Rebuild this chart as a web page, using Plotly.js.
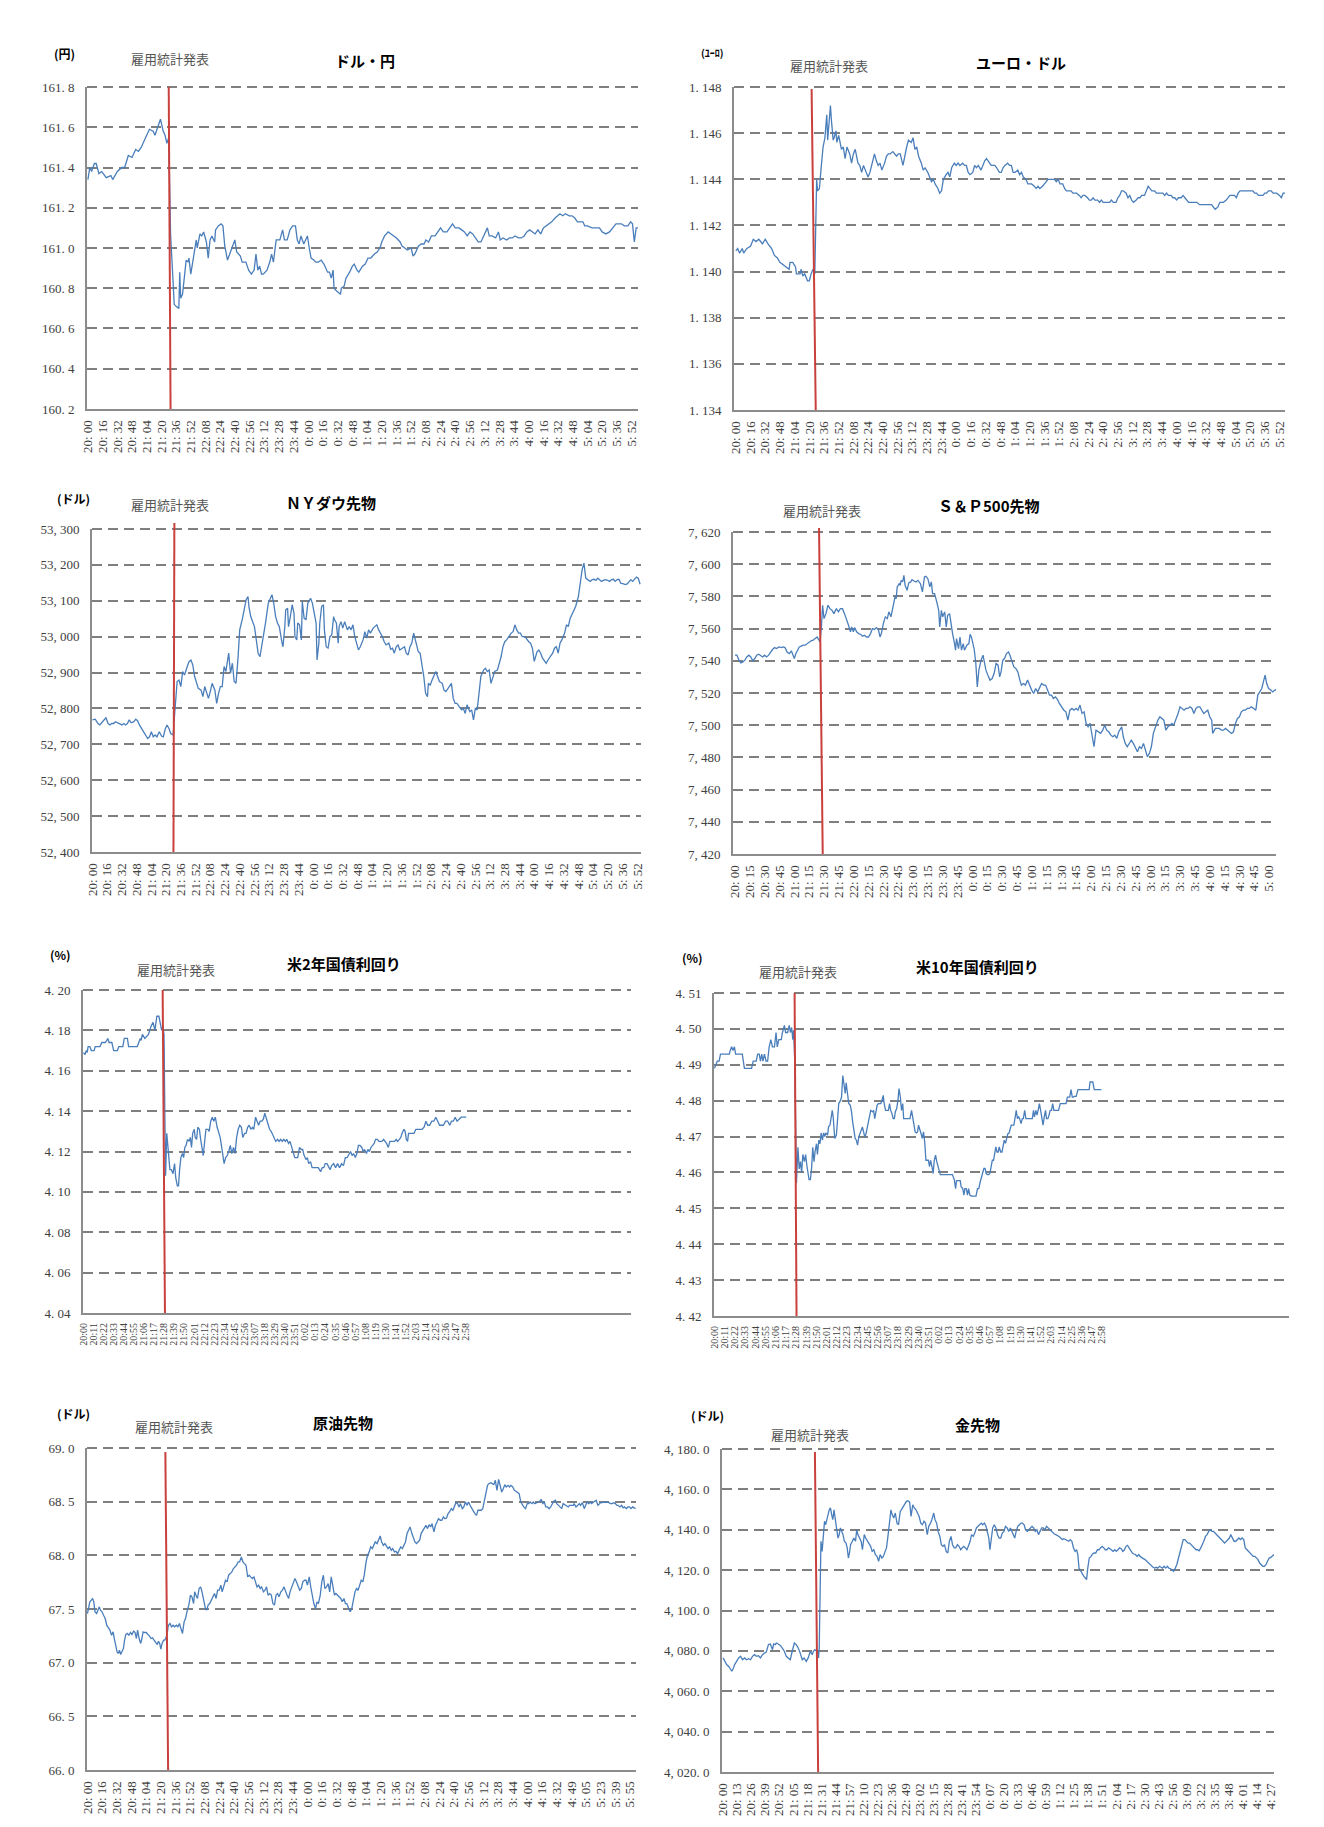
<!DOCTYPE html>
<html>
<head>
<meta charset="utf-8">
<script src="https://cdn.plot.ly/plotly-3.0.1.min.js"></script>
<style>html,body{margin:0;padding:0;background:#fff}#chart{width:1324px;height:1827px}</style>
</head>
<body>
<div id="chart"></div>
<script>
// ---------- tick labels ----------
const labels16 = ["20: 00","20: 16","20: 32","20: 48","21: 04","21: 20","21: 36","21: 52","22: 08","22: 24","22: 40","22: 56","23: 12","23: 28","23: 44","0: 00","0: 16","0: 32","0: 48","1: 04","1: 20","1: 36","1: 52","2: 08","2: 24","2: 40","2: 56","3: 12","3: 28","3: 44","4: 00","4: 16","4: 32","4: 48","5: 04","5: 20","5: 36","5: 52"];
const labels15 = ["20: 00","20: 15","20: 30","20: 45","21: 00","21: 15","21: 30","21: 45","22: 00","22: 15","22: 30","22: 45","23: 00","23: 15","23: 30","23: 45","0: 00","0: 15","0: 30","0: 45","1: 00","1: 15","1: 30","1: 45","2: 00","2: 15","2: 30","2: 45","3: 00","3: 15","3: 30","3: 45","4: 00","4: 15","4: 30","4: 45","5: 00"];
const labels11 = ["20:00","20:11","20:22","20:33","20:44","20:55","21:06","21:17","21:28","21:39","21:50","22:01","22:12","22:23","22:34","22:45","22:56","23:07","23:18","23:29","23:40","23:51","0:02","0:13","0:24","0:35","0:46","0:57","1:08","1:19","1:30","1:41","1:52","2:03","2:14","2:25","2:36","2:47","2:58"];
const labelsOil = ["20: 00","20: 16","20: 32","20: 48","21: 04","21: 20","21: 36","21: 52","22: 08","22: 24","22: 40","22: 56","23: 12","23: 28","23: 44","0: 00","0: 16","0: 32","0: 48","1: 04","1: 20","1: 36","1: 52","2: 08","2: 24","2: 40","2: 56","3: 12","3: 28","3: 44","4: 00","4: 16","4: 32","4: 49","5: 05","5: 23","5: 39","5: 55"];
const labelsGold = ["20: 00","20: 13","20: 26","20: 39","20: 52","21: 05","21: 18","21: 31","21: 44","21: 57","22: 10","22: 23","22: 36","22: 49","23: 02","23: 15","23: 28","23: 41","23: 54","0: 07","0: 20","0: 33","0: 46","0: 59","1: 12","1: 25","1: 38","1: 51","2: 04","2: 17","2: 30","2: 43","2: 56","3: 09","3: 22","3: 35","3: 48","4: 01","4: 14","4: 27"];

const usdjpyTickVals = [160.2,160.4,160.6,160.8,161.0,161.2,161.4,161.6,161.8];
const usdjpyTickText = ["160. 2","160. 4","160. 6","160. 8","161. 0","161. 2","161. 4","161. 6","161. 8"];
const eurusdTickVals = [1.134,1.136,1.138,1.140,1.142,1.144,1.146,1.148];
const eurusdTickText = ["1. 134","1. 136","1. 138","1. 140","1. 142","1. 144","1. 146","1. 148"];
const dowTickVals = [52400,52500,52600,52700,52800,52900,53000,53100,53200,53300];
const dowTickText = ["52, 400","52, 500","52, 600","52, 700","52, 800","52, 900","53, 000","53, 100","53, 200","53, 300"];
const spTickVals = [7420,7440,7460,7480,7500,7520,7540,7560,7580,7600,7620];
const spTickText = ["7, 420","7, 440","7, 460","7, 480","7, 500","7, 520","7, 540","7, 560","7, 580","7, 600","7, 620"];
const us2TickVals = [4.04,4.06,4.08,4.10,4.12,4.14,4.16,4.18,4.20];
const us2TickText = ["4. 04","4. 06","4. 08","4. 10","4. 12","4. 14","4. 16","4. 18","4. 20"];
const us10TickVals = [4.42,4.43,4.44,4.45,4.46,4.47,4.48,4.49,4.50,4.51];
const us10TickText = ["4. 42","4. 43","4. 44","4. 45","4. 46","4. 47","4. 48","4. 49","4. 50","4. 51"];
const oilTickVals = [66.0,66.5,67.0,67.5,68.0,68.5,69.0];
const oilTickText = ["66. 0","66. 5","67. 0","67. 5","68. 0","68. 5","69. 0"];
const goldTickVals = [4020,4040,4060,4080,4100,4120,4140,4160,4180];
const goldTickText = ["4, 020. 0","4, 040. 0","4, 060. 0","4, 080. 0","4, 100. 0","4, 120. 0","4, 140. 0","4, 160. 0","4, 180. 0"];

// ---------- series (x = minutes / rows after 20:00) ----------
const usdjpyTime = [0,2,4,7,9,12,15,20,25,27,
32,37,40,44,48,52,55,58,63,67,
71,73,76,79,82,84,86,88,
90,92,94,96,99,100,101,103,105,107,
109,110,112,115,118,119,122,124,126,129,
131,133,135,138,139,142,145,147,149,152,
155,158,160,162,166,168,172,175,178,181,
183,185,187,189,191,195,198,200,202,205,
209,212,214,217,220,223,226,228,230,232,
235,237,239,241,243,246,248,251,254,257,
261,263,265,267,268,270,273,275,276,279,
281,285,288,290,293,295,299,302,305,308,
312,315,318,320,323,325,327,330,333,336,
340,342,345,348,352,354,356,360,363,366,
368,371,374,378,381,384,387,391,394,397,
400,404,407,410,413,416,419,422,425,428,
432,435,437,440,444,447,449,452,456,459,
462,465,469,472,475,478,481,484,487,490,
493,496,499,503,505,509,512,514,517,520,
524,527,530,533,536,539,541,544,549,553,
557,560,564,568,572,575,578,581,584,588,
591,593,595,597,599];
const usdjpyValue = [161.34,161.40,161.38,161.42,161.42,161.37,161.38,161.35,161.36,161.34,
161.38,161.40,161.40,161.46,161.45,161.49,161.48,161.50,161.55,161.59,
161.58,161.56,161.60,161.64,161.58,161.56,161.52,161.55,
161.07,160.87,160.72,160.71,160.70,160.88,160.75,160.77,160.86,160.94,
160.93,160.95,160.87,160.95,161.04,161.00,161.07,161.06,161.08,161.03,
160.95,161.04,161.06,161.03,161.09,161.11,161.12,161.11,161.01,160.94,
160.98,161.01,161.04,160.98,160.96,160.93,160.93,160.89,160.87,160.89,
160.97,160.89,160.91,160.87,160.87,160.89,160.93,160.97,160.93,161.04,
161.04,161.09,161.04,161.04,161.09,161.11,161.11,161.04,161.02,161.06,
161.02,161.04,161.06,161.00,160.95,160.94,160.93,160.93,160.94,160.92,
160.88,160.88,160.85,160.89,160.80,160.79,160.78,160.77,160.80,160.81,
160.85,160.88,160.91,160.92,160.89,160.88,160.91,160.92,160.95,160.95,
160.97,160.98,161.00,161.03,161.06,161.07,161.08,161.07,161.06,161.05,
161.03,161.01,161.00,160.99,161.00,160.96,160.97,161.01,161.02,161.02,
161.04,161.03,161.06,161.06,161.08,161.10,161.08,161.08,161.10,161.12,
161.10,161.10,161.09,161.08,161.06,161.08,161.07,161.05,161.03,161.03,
161.07,161.10,161.06,161.06,161.05,161.08,161.04,161.05,161.04,161.05,
161.05,161.06,161.05,161.05,161.06,161.08,161.09,161.08,161.07,161.09,
161.07,161.10,161.11,161.12,161.13,161.15,161.16,161.17,161.16,161.17,
161.16,161.16,161.15,161.13,161.13,161.13,161.11,161.11,161.10,161.10,
161.10,161.08,161.07,161.08,161.10,161.12,161.12,161.12,161.11,161.11,
161.13,161.12,161.03,161.10,161.10];

const eurusdTime = [0,2,4,7,8.5,12,16,19,22,25,
29,32,35,39,42,45,48,51,54,58,
59,62,65,66,70,71,73,75,78,80,
82,84,86,88,89,91,93,95,97,98,
99,100,101,103,104,106,107,109,110,112,
115,117,119,121,124,126,128,130,133,135,
137,139,142,144,146,148,151,153,155,157,
159,162,164,166,168,171,173,175,177,179,
182,184,186,188,191,193,195,197,199,202,
204,206,209,211,213,215,217,220,222,224,
226,229,231,233,235,238,240,242,244,247,
249,251,253,255,258,260,262,264,267,269,
271,273,275,278,280,282,284,287,289,291,
293,296,298,300,302,304,307,309,311,313,
316,318,320,322,325,327,329,331,334,336,
338,340,342,344,347,349,351,353,356,358,
360,362,365,367,369,371,374,376,378,380,
383,385,387,389,391,394,396,398,400,403,
405,407,409,411,414,416,418,420,422,425,
427,429,431,433,436,438,440,442,445,447,
449,451,453,456,458,460,462,465,467,469,
471,474,476,478,480,482,485,487,489,491,
493,496,498,500,502,505,507,509,511,513,
516,518,520,522,525,527,529,531,534,536,
538,540,543,545,547,549,551,554,556,558,
560,563,565,567,569,571,574,576,578,580,
583,585,587,589,592,594,596,598];
const eurusdValue = [1.1409,1.1410,1.1408,1.1410,1.1408,1.1410,1.1411,1.1414,1.1413,1.1414,
1.1412,1.1414,1.1412,1.1410,1.1407,1.1406,1.1404,1.1403,1.1402,1.1401,
1.1404,1.1404,1.1402,1.1399,1.1399,1.1401,1.1398,1.1399,1.1396,1.1396,
1.1399,1.1401,1.1399,1.1440,1.1435,1.1436,1.14455,1.1454,1.1458,1.1463,
1.1468,1.1457,1.1463,1.1472,1.1466,1.1457,1.1458,1.1461,1.1456,1.1459,
1.1453,1.1454,1.1449,1.1454,1.1451,1.1447,1.1451,1.1453,1.1447,1.1446,
1.1443,1.1446,1.1443,1.1441,1.1443,1.1446,1.1451,1.1448,1.1446,1.1447,
1.1444,1.1447,1.1450,1.1451,1.1451,1.1452,1.1451,1.1450,1.1451,1.1451,
1.1446,1.1451,1.1454,1.1457,1.1456,1.1458,1.1453,1.1454,1.1450,1.1447,
1.1444,1.1445,1.1443,1.1441,1.1439,1.1440,1.1438,1.1436,1.1434,1.1435,
1.1440,1.1442,1.1443,1.1441,1.1445,1.1447,1.1446,1.1447,1.1446,1.1447,
1.1446,1.1446,1.1443,1.1442,1.1443,1.1446,1.1445,1.1446,1.1444,1.1446,
1.1448,1.1449,1.1448,1.1446,1.1446,1.1446,1.1445,1.1443,1.1443,1.1445,
1.1446,1.1447,1.1446,1.1446,1.1443,1.1443,1.1444,1.1442,1.1443,1.1441,
1.1440,1.1438,1.1438,1.1438,1.1437,1.1436,1.1437,1.1436,1.1437,1.1438,
1.1439,1.1440,1.1440,1.1440,1.1440,1.1439,1.1440,1.1438,1.1438,1.1436,
1.1435,1.1435,1.1435,1.1434,1.1434,1.1434,1.1433,1.1432,1.1433,1.1433,
1.1432,1.1431,1.1431,1.1432,1.1431,1.1431,1.1430,1.1431,1.1430,1.1430,
1.1430,1.1430,1.1431,1.1430,1.1430,1.1432,1.1433,1.1435,1.1435,1.1434,
1.1432,1.1433,1.1431,1.1430,1.1431,1.1432,1.1432,1.1433,1.1433,1.1435,
1.1437,1.1436,1.1435,1.1435,1.1434,1.1434,1.1434,1.1434,1.1433,1.1434,
1.1433,1.1433,1.1432,1.1432,1.1431,1.1432,1.1432,1.1433,1.1432,1.1431,
1.1430,1.1430,1.1430,1.1430,1.1430,1.1429,1.1429,1.1429,1.1429,1.1429,
1.1429,1.1429,1.1428,1.1427,1.1428,1.1430,1.1430,1.1430,1.1431,1.1432,
1.1433,1.1433,1.1433,1.1432,1.1434,1.1435,1.1435,1.1435,1.1435,1.1435,
1.1435,1.1435,1.1434,1.1434,1.1433,1.1433,1.1433,1.1434,1.1434,1.1435,
1.1435,1.1434,1.1434,1.1434,1.1433,1.1432,1.1434,1.1434];

const dowTime = [0,3,6,8,10,12.5,14.6,17,19,21,
23,25,30,32,34,36,38,40,42,45,
47,49,51,53,55,58,60,62,64,66,
68,70,72.6,75,77,79,81,83,85,87.6,
90,92,94,96,98,100,103,105,107,109,
111,113,115,118,120,122,124,126,128,130,
133,135,137,139,141,143,145,148,150,152,
154,156,158,160,163,165,167,169,170,172,
174,176,178,180,182,184,186,188,191,193,
195,197,199,201,203,206,207,209,210,212,
213,215,217,219,220,222,223,225,227,228,
230,232,234,237,239,241,243,244,246,247,
249,251,252,254,256,258,260,262,263,265,
267,268,270,272,274,277,279,281,283,285,
287,289,291,294,296,298,300,302,305,307,
309,311,313,315,317,319,322,324,326,328,
330,332,334,337,339,341,343,345,347,349,
350,352,354,356,358,360,362,364,365,367,
369,371,373,375,377,380,382,384,386,388,
390,392,394,396,399,401,403,405,407,410,
412,414,416,418,420,422,425,427,429,431,
433,435,437,440,442,444,446,448,450,452,
455,457,459,461,463,465,467,470,472,474,
476,478,480,483,485,487,489,491,493,495,
498,500,502,504,506,508,510,513,515,517,
519,521,523,525,528,529,531,532,534,535,
536,538,541,543,545,547,549,551,553,555,
557,560,562,564,566,568,570,572,574,577,
579,581,583,585,587,589,591,593,595];
const dowValue = [52768,52770,52758,52754,52760,52768,52774,52758,52754,52758,
52758,52763,52758,52754,52758,52754,52758,52768,52760,52763,
52770,52766,52754,52745,52740,52726,52716,52721,52735,52721,
52726,52721,52735,52723,52721,52742,52754,52745,52730,52726,
52823,52875,52879,52861,52903,52893,52917,52931,52935,52921,
52889,52870,52856,52851,52833,52861,52847,52828,52847,52870,
52851,52814,52842,52861,52861,52917,52903,52954,52898,52926,
52875,52870,52935,53019,53051,53079,53103,53112,53084,53056,
53042,53028,52991,52954,52944,52972,53010,53038,53093,53103,
53117,53093,53056,53038,53028,52982,52972,53028,53075,53079,
53028,53056,53089,53065,53000,52991,53038,53033,52991,53098,
53051,53047,53093,53107,53093,53065,53038,52935,52982,53038,
53084,53089,53019,52972,52968,53000,53005,53056,53047,53038,
52982,53028,53042,53024,53042,53019,53028,53019,53033,53000,
52977,52963,52972,52991,53014,52996,53019,53010,53024,53028,
53033,53019,53010,53000,52986,52977,52982,52965,52968,52954,
52972,52977,52963,52968,52972,52954,52949,52972,52982,53010,
53000,52972,52958,52954,52926,52889,52842,52833,52870,52865,
52879,52889,52903,52889,52875,52870,52851,52847,52856,52861,
52870,52828,52814,52814,52805,52796,52800,52786,52810,52791,
52796,52768,52800,52796,52842,52889,52907,52912,52903,52907,
52870,52889,52903,52907,52926,52944,52972,52986,52991,53000,
53010,53014,53033,53019,53010,53010,53000,53000,52991,52986,
52982,52968,52931,52958,52963,52954,52940,52931,52926,52935,
52949,52954,52968,52972,52954,52982,52991,53010,53033,53028,
53051,53061,53070,53084,53112,53131,53159,53186,53205,53182,
53163,53159,53154,53159,53160,53157,53163,53159,53154,53157,
53159,53157,53154,53159,53160,53154,53159,53160,53149,53147,
53145,53147,53154,53159,53154,53159,53166,53163,53146];

const spTime = [0,2,4,6,8,10,12,14,16,18,
20,22,24,26,28,30,32,34,36,38,
40,42,44.5,47,48.6,50.6,52.7,55,57,59,
60,61.6,63,65,67,69,71,73,75,77,
79,81,83,84,86,
87.4,88.6,90,92,94,96,98,100,102.5,104.6,
106.6,108.7,110.7,112.7,114.8,116.8,118,119.7,121,123,
125,127,129,131,133,135,137,139,141,143,
145,146.6,148,150,152,154,155.6,157.7,159.7,161.8,
163,164,166,167,168,169.5,170.8,172,174,175.7,
177.7,179,181,183,185,187.5,189.5,191.6,193,195,
197,198.5,199.8,201.8,204,206,207,208.7,210,212,
213.6,215,217,218.5,220,222,223,224,226,227.5,
229,230.8,232,234.5,236.5,237.7,239,240.6,242,243.5,
245,246.6,248.8,250.8,252,253.7,255.7,257.8,260,262,
264,266,267.6,269,270.8,272.5,274.5,276.6,278,280,
282,284,286,288,289.6,291.7,293.7,295.8,297.8,300,
302,304,306,308,310,312,314,316,318,320,
322,324,326,328,330,332.5,334.6,336.6,338.6,340.7,
342.7,344.8,346.8,348.8,350.9,353,355,357,359,361,
363,365,367,369.7,371.8,373.8,375.8,377.9,380,382,
384,386,388,390,391,392.6,394.6,396.6,398.7,400.7,
402.8,404.8,406.9,408.9,411,413,415,417,419,421,
423,425,427.5,429.6,431.6,433.6,435.6,437.7,439.8,441.8,
443.6,445.7,448,450,452,454,456,458,460,462,
464,466,468,470,472,474,476,478,480,482,
483,485.7,487.7,489.8,491.8,493.8,495.9,498,500,502,
504,506,508,510,512,514,516,518,520,522,
524.5,526.6,528.6,530.6,532.6,534.7,536,537.6,539.6,541.7,
543.7,545.8,547.8,549];
const spValue = [7543.5,7543.5,7540.4,7538.7,7539.3,7540.4,7542.4,7543.5,7542.4,7540.0,
7541.4,7543.5,7544.1,7543.5,7542.4,7543.5,7542.4,7543.5,7545.5,7547.0,
7548.2,7547.6,7548.6,7548.2,7548.6,7548.2,7545.5,7544.5,7546.2,7543.5,
7541.4,7544.5,7546.6,7548.6,7549.1,7549.7,7549.7,7550.7,7551.7,7552.4,
7552.8,7553.8,7554.8,7553.8,7551.7,
7561.1,7574.5,7566.2,7569.3,7574.5,7572.4,7571.4,7569.3,7572.4,7570.4,
7572.4,7572.4,7569.3,7566.2,7562.1,7558.0,7561.1,7558.0,7560.6,7558.0,
7556.9,7556.5,7555.3,7555.9,7554.8,7554.8,7556.9,7560.0,7559.4,7560.6,
7559.4,7554.8,7556.9,7563.1,7567.3,7566.2,7570.4,7567.3,7574.5,7579.7,
7578.6,7585.9,7587.9,7586.9,7590.0,7589.0,7593.1,7586.9,7583.8,7588.4,
7589.0,7590.4,7589.6,7589.0,7590.0,7587.9,7582.8,7592.1,7592.5,7591.0,
7585.9,7589.0,7581.7,7581.7,7576.6,7571.4,7561.1,7571.4,7567.3,7570.4,
7561.1,7568.3,7569.3,7561.1,7556.9,7550.7,7546.6,7553.8,7547.6,7554.8,
7546.6,7550.7,7546.6,7549.7,7550.7,7556.5,7554.8,7550.7,7546.6,7538.3,
7523.8,7534.2,7540.4,7543.5,7540.4,7534.2,7531.1,7528.0,7529.0,7532.1,
7538.3,7537.3,7530.0,7533.1,7540.4,7541.4,7544.5,7545.5,7543.5,7540.4,
7536.2,7535.2,7533.1,7528.0,7524.9,7525.9,7524.9,7528.0,7524.9,7521.8,
7519.7,7522.8,7520.7,7523.8,7525.9,7524.9,7524.9,7521.8,7518.7,7518.7,
7516.6,7517.6,7516.0,7513.5,7511.4,7509.3,7508.3,7503.1,7509.3,7510.4,
7509.3,7510.4,7509.3,7512.5,7507.3,7508.3,7501.1,7499.0,7501.1,7492.8,
7486.6,7496.9,7495.9,7494.9,7496.9,7500.0,7496.9,7495.9,7493.8,7492.8,
7493.8,7491.8,7495.9,7498.0,7499.0,7492.8,7488.7,7486.6,7488.7,7490.7,
7488.7,7486.6,7483.5,7486.6,7485.6,7488.7,7484.5,7480.4,7482.5,7486.6,
7494.9,7499.0,7503.1,7505.2,7504.2,7503.1,7496.9,7499.0,7500.0,7501.1,
7500.0,7503.1,7507.3,7511.4,7510.4,7509.3,7510.4,7510.4,7511.4,7510.4,
7507.3,7510.4,7511.4,7511.4,7509.3,7507.3,7508.3,7509.3,7505.2,7503.1,
7494.9,7498.0,7498.0,7498.0,7496.9,7496.9,7498.0,7496.9,7495.9,7494.9,
7495.9,7501.1,7504.2,7505.2,7508.3,7509.3,7509.3,7510.4,7510.4,7511.4,
7510.4,7509.3,7518.7,7520.7,7522.8,7528.0,7531.1,7525.9,7522.8,7521.8,
7520.7,7521.8,7522.2,7520.7];

const us2Time = [0,1.7,3,4,5.1,7,8.6,11.6,12.9,18,
20,24,26.6,28,31,33,37,38.6,43,44.6,
48,49.3,58.8,60,62,63,64.4,67,69,71,
73.8,76,78,80.2,82.4,83.7,85.4,86.7,88,
88.8,89.7,91,92,93,94.4,96,97.8,99.5,100.8,
102.5,103.8,105,106.4,108,109.4,110.7,112,113.7,115.4,
116.7,118,119.3,121,122,123.6,124.8,126.6,128,129.6,
130.8,132.6,133.8,136,137.3,139,140.7,142.4,144,146,
147.6,149.3,151,152.3,153.6,155.3,157,158.7,160.4,162,
163.9,165.6,167.3,169,170.7,172.5,174,176,177.6,179.3,
181,182.8,184.5,186,188,189.6,191.3,193,194.8,196.5,
198,200,201.6,203.3,205,207,208.5,210,212,213.6,
215.4,217,218.8,220.5,222,224,225.6,227.4,229,230.8,
232.5,234,236,237.7,239.4,241,243,244.5,246,248,
249.7,251.4,254,256.5,259,260.8,262.5,264,266,267.7,
269.4,271,273.3,275.4,277.5,279.7,281.9,284,286,288,
290,291.7,293.4,295,296.9,298.6,300.3,302,304,305.5,
307,309,310.6,312.3,314,315.7,317.5,319,321,322.6,
324,326,327.8,329.5,331,333,334.6,336,338,339.8,
341.5,343,345,346.6,348,350,351.3,352.6,354,355,
357,359,361,363,365.5,367.6,369.8,372,374,376,
378,380.5,382.7,384.8,387,389,391,393,395.5,397.7,
400,402,404,406,408,410.5,412.6,414.8,418];
const us2Value = [4.169,4.168,4.170,4.169,4.172,4.172,4.170,4.170,4.172,4.172,
4.174,4.174,4.176,4.174,4.174,4.170,4.170,4.172,4.172,4.176,
4.176,4.172,4.172,4.174,4.176,4.175,4.178,4.176,4.177,4.178,
4.182,4.184,4.180,4.187,4.187,4.183,4.180,4.182,4.178,
4.142,4.108,4.129,4.122,4.119,4.111,4.111,4.109,4.114,4.107,
4.103,4.103,4.111,4.117,4.119,4.117,4.122,4.123,4.126,4.125,
4.127,4.122,4.129,4.131,4.127,4.126,4.132,4.131,4.126,4.121,
4.118,4.126,4.131,4.131,4.130,4.135,4.137,4.135,4.137,4.132,
4.129,4.127,4.122,4.117,4.114,4.117,4.118,4.120,4.123,4.119,
4.122,4.119,4.127,4.131,4.133,4.132,4.127,4.129,4.129,4.132,
4.133,4.131,4.132,4.131,4.137,4.135,4.133,4.135,4.135,4.136,
4.139,4.136,4.133,4.131,4.130,4.128,4.127,4.125,4.126,4.125,
4.126,4.125,4.126,4.125,4.126,4.124,4.125,4.122,4.120,4.117,
4.117,4.117,4.122,4.121,4.121,4.118,4.116,4.117,4.114,4.115,
4.112,4.112,4.112,4.112,4.110,4.112,4.112,4.114,4.114,4.112,
4.111,4.113,4.114,4.112,4.114,4.112,4.114,4.113,4.117,4.117,
4.119,4.120,4.118,4.119,4.117,4.119,4.123,4.123,4.122,4.120,
4.121,4.119,4.121,4.120,4.122,4.123,4.124,4.126,4.126,4.125,
4.125,4.125,4.126,4.125,4.124,4.122,4.125,4.125,4.125,4.125,
4.126,4.125,4.126,4.127,4.129,4.131,4.130,4.126,4.125,4.129,
4.129,4.129,4.129,4.131,4.131,4.131,4.131,4.132,4.135,4.133,
4.133,4.135,4.135,4.137,4.135,4.133,4.133,4.133,4.135,4.135,
4.133,4.135,4.135,4.137,4.135,4.136,4.137,4.137,4.137];

const us10Time = [0,1.3,3,5,6.5,11,16,17,18.5,20,
21.5,22.8,26,30,32.3,37,40,41.8,45,46.6,
48.3,49.6,51,52.2,53.9,55.6,57.3,59,60.8,62.5,
64.7,66.4,67.7,69.4,72,73.3,75.4,76.7,78.9,80.6,
81.9,83.2,84.5,85.3,
86.6,88.4,90,91.4,92.7,94,95.3,97,98.3,99.6,
100.9,102,103.4,104.7,106,107.3,108.6,110,111,112.5,
113.8,115,116.4,117.7,119,120,122,123,124.6,125.8,
127,128,129.7,131.5,132.8,134,135.8,137,138.4,139.7,
141,142,143.5,144.8,146.5,147.8,149,150.4,151.7,153,
154.3,155.6,157,158,159.5,160.8,162,163.4,164.7,166,
167,168.5,170.3,171.6,172.8,174,175.4,176.7,178,179.3,
180.6,182,183,184.5,186,187.5,188.8,190,191.4,192.7,
194,195,196.5,197.8,199,200.4,201.7,203,204,205.6,
207,209,210.8,212.5,213.8,215,216.4,217.7,219,220,
221.6,222.8,224,225.4,226.7,228,229,230.6,231.9,233,
234.5,235.8,237,238.4,239.7,241,242,243.5,245.7,247.8,
250,252,254.7,256.5,258.6,260,261,263,265,266,
267.7,269,270,271.5,272.8,274,275.4,277,280,282,
283.6,285,286.6,288,289,290.5,291.8,293,294.4,295.7,
297,298,299.6,300.9,302,303.4,304.7,306,307,308.6,
310,311,312.5,313.8,315,316.4,317.7,319,320,321.6,
322.8,324,325.4,326.7,328,329,330.6,331.9,333,334.5,
335.8,337.5,339,341,342.7,344,345,346.6,347.8,349,
350.4,351.7,353,354.3,355.6,357,358,359.5,360.8,362,
363.4,364.7,366,367.7,369.4,371,372.8,375,377,379,
380.6,382,383,384.5,385.8,387,388,390,392,393.5,
396.6,401,404,405,408,409.5,411.6,417.2];
const us10Value = [4.489,4.490,4.491,4.491,4.493,4.493,4.493,4.494,4.495,4.494,
4.495,4.493,4.493,4.493,4.489,4.489,4.489,4.491,4.491,4.493,
4.493,4.491,4.493,4.491,4.493,4.491,4.491,4.495,4.497,4.495,
4.495,4.499,4.495,4.497,4.497,4.499,4.501,4.499,4.499,4.501,
4.499,4.5004,4.497,4.4996,
4.491,4.457,4.467,4.461,4.463,4.460,4.465,4.463,4.465,4.462,
4.460,4.458,4.458,4.461,4.467,4.463,4.466,4.468,4.465,4.469,
4.468,4.471,4.469,4.471,4.470,4.471,4.4704,4.4727,4.4732,4.4755,
4.4773,4.4755,4.4695,4.4704,4.476,4.4792,4.480,4.481,4.487,4.4838,
4.482,4.485,4.4824,4.4792,4.4787,4.4769,4.4741,4.4713,4.4695,4.469,
4.4676,4.4699,4.4708,4.4713,4.4727,4.4713,4.4699,4.4708,4.4727,4.4746,
4.476,4.4773,4.4769,4.4773,4.475,4.4773,4.4787,4.4792,4.4792,4.4792,
4.480,4.4815,4.4792,4.4773,4.4773,4.4773,4.4792,4.4773,4.4764,4.475,
4.475,4.4769,4.4778,4.480,4.4834,4.4811,4.4773,4.4792,4.475,4.475,
4.475,4.475,4.475,4.4773,4.475,4.4736,4.4713,4.471,4.4713,4.4732,
4.4713,4.4708,4.4695,4.4713,4.4685,4.4634,4.4634,4.4634,4.4616,4.4634,
4.4616,4.4597,4.4634,4.4648,4.463,4.4616,4.4606,4.4594,4.4594,4.4594,
4.4594,4.4594,4.4594,4.4594,4.458,4.4555,4.4577,4.4577,4.4577,4.456,
4.4555,4.4537,4.4555,4.4555,4.4537,4.4555,4.4537,4.4534,4.4534,4.4534,
4.4555,4.4555,4.4574,4.4592,4.4597,4.4611,4.4611,4.4597,4.4594,4.4594,
4.4597,4.4611,4.4634,4.4634,4.4657,4.4671,4.4657,4.4657,4.4671,4.4657,
4.4657,4.4671,4.469,4.4681,4.4695,4.4708,4.471,4.4727,4.4732,4.4732,
4.4732,4.475,4.4773,4.475,4.4755,4.475,4.4736,4.475,4.475,4.4773,
4.475,4.475,4.475,4.475,4.475,4.4773,4.4755,4.4773,4.476,4.4773,
4.4792,4.4773,4.475,4.4732,4.4755,4.4773,4.475,4.475,4.476,4.4773,
4.4773,4.4792,4.4773,4.4773,4.4773,4.4773,4.4792,4.4792,4.4792,4.4792,
4.481,4.481,4.481,4.4831,4.481,4.481,4.4812,4.4812,4.4831,4.4831,
4.4831,4.4831,4.4831,4.4852,4.4852,4.4831,4.4831,4.4831];

const oilTime = [0,1.3,2.6,4.3,5.6,6.9,8.2,10,11.6,12.9,
14.2,15.9,17.6,19.4,21,22.8,24.5,26.3,28,29.3,
30.6,32.3,33.6,34.9,36.2,37.9,39.2,40.5,41.8,43.5,
45.2,47,48.6,50.4,52,53.4,54.7,56.4,58.1,59.4,
60.7,62.4,64.2,65.9,67.6,69.3,71,72.7,74.5,76.2,
77.5,78.8,80.1,81.4,83.1,84.4,85.7,87,
88.3,90,91.7,93.4,95,97,98.6,100.3,102,103.7,
105.5,107,109,110.6,112.4,114,115.8,117,118.4,120,
121.8,123.5,125,127,128.7,130,131.7,133.4,135,137,
138.6,140.3,142,143.8,145.5,147,148.9,150.6,152.4,154,
155.8,157.5,159.3,161,162.7,164.4,166,167.9,169.6,171.3,
173,174.8,176.5,178,180,181.7,183.4,185,186.8,188.5,
190,192,193.7,195.4,197,198.9,200.6,202.3,204,205.8,
207.5,209,211,212.7,214.4,216,217.8,219.5,221,223,
224.7,226.4,228,229.9,231.6,233.3,235,236.8,238.5,240,
242,243.6,245.4,247,248.8,250.5,252,254,255.7,257.4,
259,260.9,262.6,264.3,266,267.8,269.5,271,273,274.6,
276.4,278,279.8,281.5,283,285,286.7,288.4,290,291.9,
293.6,295.3,297,298.7,300.5,302,304,305.6,307.4,309,
310.8,312.5,314,316,317.7,319.4,321,322.9,324.6,326.3,
328,329.7,331.5,333,335,336.6,338.4,340,341.8,343.6,
345,347,348.7,350.4,352,354,355.6,357.3,359,360.8,
362.5,364,365.9,367.6,369.3,371,372.8,374.5,376,378,
379.7,381.4,383,384.9,386.6,388.3,390,391.8,393.5,395,
397,398.7,400.3,402,403.8,405.5,407,409,410.6,412.4,
414,415.8,417.5,419.3,421,422.7,424.5,426,427.9,429.6,
431.3,433,434.8,436.5,438,440,441.7,443.4,445,446.8,
448.6,450,452,453.7,455.4,457,459,460.6,462,464,
465.8,467.5,469,471,472.8,474.4,476,478,479.8,481.5,
483,485,486.4,488,490,491.8,493.5,495,496.8,498.5,
500,502,503.7,505.4,507,508.8,510.5,512,514,516,
517.5,519,521,523,524.6,526,528,530,531,533,
535,536.5,538,540,542,543.7,545,547,549,550,
552,553.6,555,557,558.8,560,562,564,565.6,567,
569,570.7,572.5,574,576,577.6,579,581,582.8,584.5,
586,588,589.7,591.4,593,594.8,596.5,598];
const oilValue = [67.458,67.505,67.567,67.582,67.598,67.567,67.474,67.458,67.504,67.520,
67.489,67.474,67.442,67.411,67.349,67.318,67.303,67.256,67.287,67.225,
67.163,67.101,67.086,67.117,67.076,67.117,67.132,67.210,67.262,67.272,
67.256,67.281,67.262,67.294,67.281,67.225,67.303,67.225,67.179,67.225,
67.287,67.281,67.281,67.262,67.250,67.225,67.231,67.210,67.194,67.169,
67.200,67.179,67.126,67.179,67.210,67.210,67.231,67.272,
67.349,67.365,67.334,67.349,67.334,67.349,67.334,67.365,67.318,67.272,
67.381,67.411,67.489,67.536,67.629,67.613,67.551,67.660,67.629,67.598,
67.691,67.706,67.660,67.567,67.504,67.489,67.536,67.551,67.582,67.613,
67.644,67.598,67.675,67.675,67.722,67.660,67.722,67.768,67.753,67.815,
67.830,67.846,67.877,67.892,67.908,67.939,67.939,67.985,67.939,67.923,
67.908,67.799,67.815,67.799,67.784,67.799,67.737,67.706,67.722,67.691,
67.706,67.660,67.675,67.706,67.629,67.644,67.629,67.551,67.536,67.629,
67.644,67.613,67.660,67.675,67.706,67.660,67.629,67.598,67.660,67.706,
67.737,67.784,67.753,67.706,67.675,67.691,67.753,67.768,67.768,67.722,
67.799,67.706,67.598,67.551,67.504,67.567,67.551,67.629,67.753,67.815,
67.691,67.706,67.737,67.660,67.799,67.722,67.629,67.644,67.629,67.613,
67.598,67.567,67.598,67.551,67.551,67.504,67.474,67.504,67.567,67.660,
67.691,67.675,67.722,67.768,67.753,67.815,67.939,68.001,68.032,68.079,
68.063,68.094,68.125,68.110,68.156,68.181,68.125,68.094,68.110,68.079,
68.063,68.079,68.047,68.063,68.032,68.038,68.016,68.047,68.079,68.063,
68.094,68.125,68.203,68.234,68.265,68.203,68.156,68.125,68.110,68.125,
68.141,68.203,68.234,68.249,68.280,68.249,68.286,68.265,68.296,68.218,
68.280,68.311,68.342,68.327,68.327,68.358,68.342,68.348,68.389,68.404,
68.435,68.420,68.466,68.491,68.482,68.451,68.482,68.435,68.451,68.497,
68.466,68.497,68.466,68.435,68.420,68.389,68.373,68.420,68.420,68.420,
68.435,68.513,68.606,68.652,68.668,68.677,68.668,68.659,68.699,68.606,
68.708,68.668,68.590,68.621,68.659,68.637,68.652,68.637,68.652,68.637,
68.606,68.597,68.590,68.575,68.497,68.466,68.451,68.435,68.482,68.482,
68.497,68.482,68.497,68.482,68.491,68.497,68.504,68.522,68.482,68.497,
68.451,68.451,68.435,68.451,68.482,68.504,68.513,68.482,68.466,68.451,
68.435,68.482,68.473,68.466,68.451,68.466,68.466,68.466,68.482,68.451,
68.466,68.482,68.466,68.491,68.435,68.482,68.497,68.482,68.497,68.482,
68.497,68.504,68.513,68.466,68.482,68.491,68.491,68.497,68.491,68.497,
68.491,68.482,68.482,68.491,68.482,68.466,68.466,68.451,68.466,68.442,
68.451,68.435,68.451,68.451,68.435,68.451,68.442,68.435];

const goldTime = [0,1.5,3.3,5.2,7,8.1,9.6,10.7,12.5,14.4,
16.2,18,19.9,21.7,23.6,25.4,27.2,29,31,32.8,
34.6,36.5,38.3,40,42,43.8,45.7,46.8,48.2,49.3,
51,53,54.8,56.7,58.5,60.4,62.2,64,66,67.7,
69.6,71.4,73.3,75,77,78.8,80.7,82.5,83.6,85,
86.5,87.3,
88.4,89,90,90.6,91.7,92.8,93.9,95,96,97.2,
98.3,99.4,100.5,101.6,102.7,103.8,105,106.4,107.5,108.6,
110,111,112.3,113.8,114.9,116,117,118,119.7,121,
122.6,123.7,124.8,126.3,127.8,129,130.7,132,133.7,135,
136.6,138,139.5,141,142.5,144,145.4,147,148.4,150,
151.3,152.8,154.3,155.4,156.5,158,159.4,161,162.4,164,
165,166.8,168,169.7,171,172.7,174,175.6,177,178.6,
180,181.5,183,184.5,186,187.4,189,190.4,192,193.3,
195,196.2,197.7,199,200.7,202,203.6,205,206.5,208,
209.5,211,212.4,214,215.4,217,218.4,220,221.3,222.8,
224.3,225.7,227,228.7,230,231.6,233,234.5,236,237.5,
239,240.4,242,243.4,244.8,246,247,248,249.6,251,
252.6,254,255.5,257,258.5,260,261.4,263,264.4,266,
267.3,268.8,270,271.3,272.8,274.3,275.8,277.2,278.7,280,
281.7,283,284.6,286,287.5,289,290.5,292,293.4,295,
296.4,298,299.4,300.8,302.4,303.8,305.2,306.7,308,309.6,
311,312.6,314,315.5,317,318.5,320,321.4,322.9,324.4,
325.8,327.3,328.4,329.5,331,332.5,334,335.4,336.5,337.6,
339,340.6,342,343.5,345,346.5,348,349.4,351,352.4,
353.8,355.3,356.8,358.2,359.7,361,362.7,364,365.6,367,
368.5,370,371.5,373,374.4,376,377.4,378.9,380.3,381.8,
383.3,384.8,386,387.7,389,390.6,392,393.6,395,396.5,
398,399.5,401,402.4,404,405.4,406.8,408.3,409.8,411.3,
412.7,414.2,415.7,417,418.6,420,421.6,423,424.5,426,
427.5,429,430.4,431.9,433.4,434.8,436.3,437.8,439.2,440.7,
442.2,443.7,445,446.6,448,449.6,451,452.5,454,455.4,
457,458.4,459.9,461.3,462.8,464.3,465.8,467.2,468.7,470,
471.6,473,474.6,476,477.5,479,480.5,482,483.4,485,
486.4,487.9,489.3,490.8,492.3,493.7,495.2,496.7,498,499.6,
501,502.6,504,505.5,507,508.5,510];
const goldValue = [4076.5,4074.8,4073.2,4072.3,4070.7,4069.9,4071.5,4073.2,4074.8,4076.5,
4077.3,4075.6,4076.5,4075.6,4076.1,4075.6,4077.3,4078.1,4077.3,4077.6,
4076.5,4078.1,4078.9,4079.4,4083.1,4083.4,4080.6,4083.4,4083.1,4083.9,
4083.4,4082.7,4081.4,4079.8,4077.3,4076.5,4075.6,4079.8,4083.9,4083.1,
4081.4,4078.9,4075.6,4076.5,4074.8,4076.5,4079.8,4078.1,4079.8,4080.6,
4079.8,4080.6,
4076.5,4081.4,4107.8,4134.3,4129.3,4139.2,4144.2,4142.5,4145.8,4147.5,
4149.9,4150.8,4147.5,4145.0,4149.9,4146.6,4140.9,4135.9,4137.6,4140.9,
4139.2,4137.6,4134.3,4133.4,4131.0,4126.0,4128.5,4132.6,4134.3,4135.9,
4134.3,4140.0,4137.6,4135.9,4134.3,4130.1,4137.6,4135.9,4134.3,4132.6,
4131.8,4129.3,4130.1,4127.7,4126.8,4124.4,4127.7,4126.0,4126.8,4129.3,
4131.0,4137.6,4143.3,4149.9,4147.5,4145.8,4148.3,4143.3,4142.5,4149.1,
4149.9,4151.6,4152.4,4154.1,4154.4,4153.7,4146.6,4152.4,4150.8,4149.9,
4148.3,4146.6,4143.3,4142.5,4144.2,4143.3,4137.6,4141.7,4143.3,4145.0,
4148.3,4145.0,4143.3,4139.2,4136.7,4132.6,4131.8,4132.6,4129.3,4128.5,
4134.3,4136.7,4132.6,4131.0,4131.0,4132.6,4131.8,4130.1,4131.0,4131.8,
4131.0,4130.1,4131.8,4134.3,4137.6,4136.7,4138.4,4140.9,4141.7,4142.5,
4143.3,4142.5,4143.3,4141.7,4138.4,4135.9,4130.1,4134.3,4140.9,4142.5,
4140.9,4137.6,4135.9,4135.9,4138.4,4139.2,4141.7,4140.9,4139.2,4140.9,
4139.2,4136.7,4135.9,4139.2,4141.7,4142.5,4143.3,4143.3,4142.5,4140.0,
4139.2,4140.0,4140.9,4141.7,4140.9,4139.2,4140.0,4137.6,4139.2,4140.9,
4140.9,4140.0,4141.7,4140.9,4140.0,4139.2,4138.4,4137.9,4137.6,4137.2,
4136.7,4135.9,4135.1,4135.6,4135.1,4134.6,4134.3,4135.1,4134.3,4131.0,
4129.3,4130.1,4127.7,4121.0,4119.4,4117.7,4116.9,4116.1,4115.3,4121.0,
4126.0,4126.8,4128.0,4128.5,4128.5,4130.1,4130.1,4131.0,4131.8,4131.0,
4130.1,4130.1,4131.0,4130.6,4130.1,4129.3,4130.1,4129.3,4130.1,4131.0,
4130.6,4129.3,4130.1,4131.8,4132.3,4131.0,4129.3,4128.5,4128.0,4127.7,
4126.8,4127.7,4126.8,4126.0,4125.7,4125.2,4124.4,4123.5,4122.7,4121.9,
4121.4,4121.0,4121.4,4121.0,4121.9,4121.4,4121.0,4121.9,4121.0,4121.9,
4121.0,4120.7,4120.2,4119.4,4121.0,4122.7,4126.0,4129.3,4132.6,4135.1,
4135.1,4134.3,4133.4,4133.4,4132.6,4131.8,4131.0,4130.1,4130.1,4129.6,
4131.0,4132.6,4134.3,4136.7,4137.6,4139.2,4140.0,4139.2,4139.2,4138.4,
4137.6,4136.7,4135.9,4135.1,4134.3,4133.4,4134.3,4135.1,4135.9,4137.6,
4135.9,4134.3,4134.3,4135.1,4135.9,4135.1,4135.9,4135.1,4131.0,4130.1,
4129.3,4128.5,4127.7,4126.8,4126.8,4126.0,4125.2,4123.5,4122.7,4121.9,
4121.9,4122.7,4124.4,4126.0,4126.3,4126.8,4127.7];

// ---------- layout / panels (pixel geometry of the page) ----------
const W = 1324, H = 1827;
const panels = [
  {t: usdjpyTime, v: usdjpyValue, px: [87, 638], py: [87, 409], xr: [-1, 599], yr: [160.2, 161.8],
   yv: usdjpyTickVals, yt: usdjpyTickText, xl: labels16, step: 16, xfs: 13,
   red: [88, 90, 87, 409], title: 'ドル・円', tp: [365, 61], unit: '(円)', up: [64, 53], ufs: 12, np: [170, 58]},
  {t: eurusdTime, v: eurusdValue, px: [734, 1285], py: [87, 410], xr: [-2, 598], yr: [1.134, 1.148],
   yv: eurusdTickVals, yt: eurusdTickText, xl: labels16, step: 16, xfs: 13,
   red: [82.5, 87, 89, 410], title: 'ユーロ・ドル', tp: [1021, 62], unit: '(ﾕｰﾛ)', up: [712, 52], ufs: 10, np: [829, 65]},
  {t: dowTime, v: dowValue, px: [92, 641], py: [529, 852], xr: [-0.5, 596], yr: [52400, 53300],
   yv: dowTickVals, yt: dowTickText, xl: labels16, step: 16, xfs: 13,
   red: [89, 88, 523, 852], title: 'ＮＹダウ先物', tp: [331, 502], unit: '(ドル)', up: [73, 498], ufs: 12, np: [170, 504]},
  {t: spTime, v: spValue, px: [733, 1276], py: [532, 854], xr: [-2, 547], yr: [7420, 7620],
   yv: spTickVals, yt: spTickText, xl: labels15, step: 15, xfs: 13,
   red: [85, 88.7, 528, 854], title: 'Ｓ＆Ｐ500先物', tp: [989, 506], unit: '', up: [0, 0], ufs: 12, np: [822, 510]},
  {t: us2Time, v: us2Value, px: [83, 631], py: [990, 1313], xr: [-0.5, 598], yr: [4.04, 4.20],
   yv: us2TickVals, yt: us2TickText, xl: labels11, step: 11, xfs: 10,
   red: [86.5, 89, 990, 1313], title: '米2年国債利回り', tp: [344, 964], unit: '(%)', up: [60, 955], ufs: 12, np: [176, 969]},
  {t: us10Time, v: us10Value, px: [714, 1289], py: [993, 1316], xr: [-0.5, 619.5], yr: [4.42, 4.51],
   yv: us10TickVals, yt: us10TickText, xl: labels11, step: 11, xfs: 10,
   red: [86.4, 88.5, 993, 1316], title: '米10年国債利回り', tp: [977, 967], unit: '(%)', up: [692, 958], ufs: 12, np: [798, 971]},
  {t: oilTime, v: oilValue, px: [87, 636], py: [1448, 1770], xr: [-0.5, 598.5], yr: [66.0, 69.0],
   yv: oilTickVals, yt: oilTickText, xl: labelsOil, step: 16, xfs: 13,
   red: [85, 88, 1452, 1770], title: '原油先物', tp: [343, 1422], unit: '(ドル)', up: [73, 1413], ufs: 12, np: [174, 1426]},
  {t: goldTime, v: goldValue, px: [722, 1274], py: [1449, 1772], xr: [-1, 510], yr: [4020, 4180],
   yv: goldTickVals, yt: goldTickText, xl: labelsGold, step: 13, xfs: 13,
   red: [85, 88, 1452, 1772], title: '金先物', tp: [977, 1424], unit: '(ドル)', up: [707, 1415], ufs: 12, np: [810, 1434]}
];

const LINE = '#4a7ebb', RED = '#c9413c', GRID = '#7f7f7f', AXIS = '#8c8c8c', TXT = '#404040';
const DASH = '10px,6px';
const SERIF = 'Liberation Serif, DejaVu Serif, serif';
const JP = 'Noto Sans CJK JP, Noto Sans, sans-serif';

const traces = [];
const layout = {
  width: W, height: H, margin: {l: 0, r: 0, t: 0, b: 0},
  paper_bgcolor: '#ffffff', plot_bgcolor: 'rgba(0,0,0,0)', showlegend: false,
  shapes: [], annotations: []
};

panels.forEach((p, i) => {
  const s = i === 0 ? '' : String(i + 1);
  const n = Math.min(p.t.length, p.v.length);
  traces.push({
    type: 'scatter', mode: 'lines', x: p.t.slice(0, n), y: p.v.slice(0, n),
    xaxis: 'x' + s, yaxis: 'y' + s, line: {color: LINE, width: 1.3}, hoverinfo: 'skip'
  });
  const span = p.yr[1] - p.yr[0];
  layout['xaxis' + s] = {
    domain: [p.px[0] / W, p.px[1] / W], anchor: 'y' + s, range: p.xr,
    tickmode: 'array', tickvals: p.xl.map((_, k) => k * p.step), ticktext: p.xl,
    tickangle: -90, tickfont: {family: SERIF, size: p.xfs, color: TXT},
    showline: true, linecolor: AXIS, linewidth: 2, showgrid: false, zeroline: false,
    ticks: '', ticklabelstandoff: 4, fixedrange: true
  };
  layout['yaxis' + s] = {
    domain: [1 - p.py[1] / H, 1 - p.py[0] / H], anchor: 'x' + s,
    range: [p.yr[0] - span * 1e-4, p.yr[1] + span * 1e-4],
    tickmode: 'array', tickvals: p.yv, ticktext: p.yt,
    tickfont: {family: SERIF, size: 13, color: TXT},
    showline: true, linecolor: AXIS, linewidth: 2,
    showgrid: true, gridcolor: GRID, gridwidth: 2, griddash: DASH,
    zeroline: false, ticks: '', ticklabelstandoff: 8, fixedrange: true
  };
  // top gridline (Plotly drops grid lines lying on the plot edge)
  layout.shapes.push({
    type: 'line', xref: 'x' + s + ' domain', yref: 'y' + s + ' domain',
    x0: 0, x1: 1, y0: 1, y1: 1, layer: 'below',
    line: {color: GRID, width: 2, dash: DASH}
  });
  layout.shapes.push({
    type: 'line', xref: 'x' + s, yref: 'paper',
    x0: p.red[0], y0: 1 - p.red[2] / H, x1: p.red[1], y1: 1 - p.red[3] / H,
    line: {color: RED, width: 2}
  });
  layout.annotations.push({
    xref: 'paper', yref: 'paper', x: p.tp[0] / W, y: 1 - p.tp[1] / H,
    xanchor: 'center', yanchor: 'middle', showarrow: false,
    text: '<b>' + p.title + '</b>', font: {family: JP, size: 15, color: '#000'}
  });
  layout.annotations.push({
    xref: 'paper', yref: 'paper', x: p.np[0] / W, y: 1 - p.np[1] / H,
    xanchor: 'center', yanchor: 'middle', showarrow: false,
    text: '雇用統計発表', font: {family: JP, size: 13, color: '#555'}
  });
  if (p.unit) {
    layout.annotations.push({
      xref: 'paper', yref: 'paper', x: p.up[0] / W, y: 1 - p.up[1] / H,
      xanchor: 'center', yanchor: 'middle', showarrow: false,
      text: '<b>' + p.unit + '</b>', font: {family: JP, size: p.ufs, color: '#000'}
    });
  }
});

Plotly.newPlot('chart', traces, layout, {staticPlot: true, displayModeBar: false});
</script>
</body>
</html>
